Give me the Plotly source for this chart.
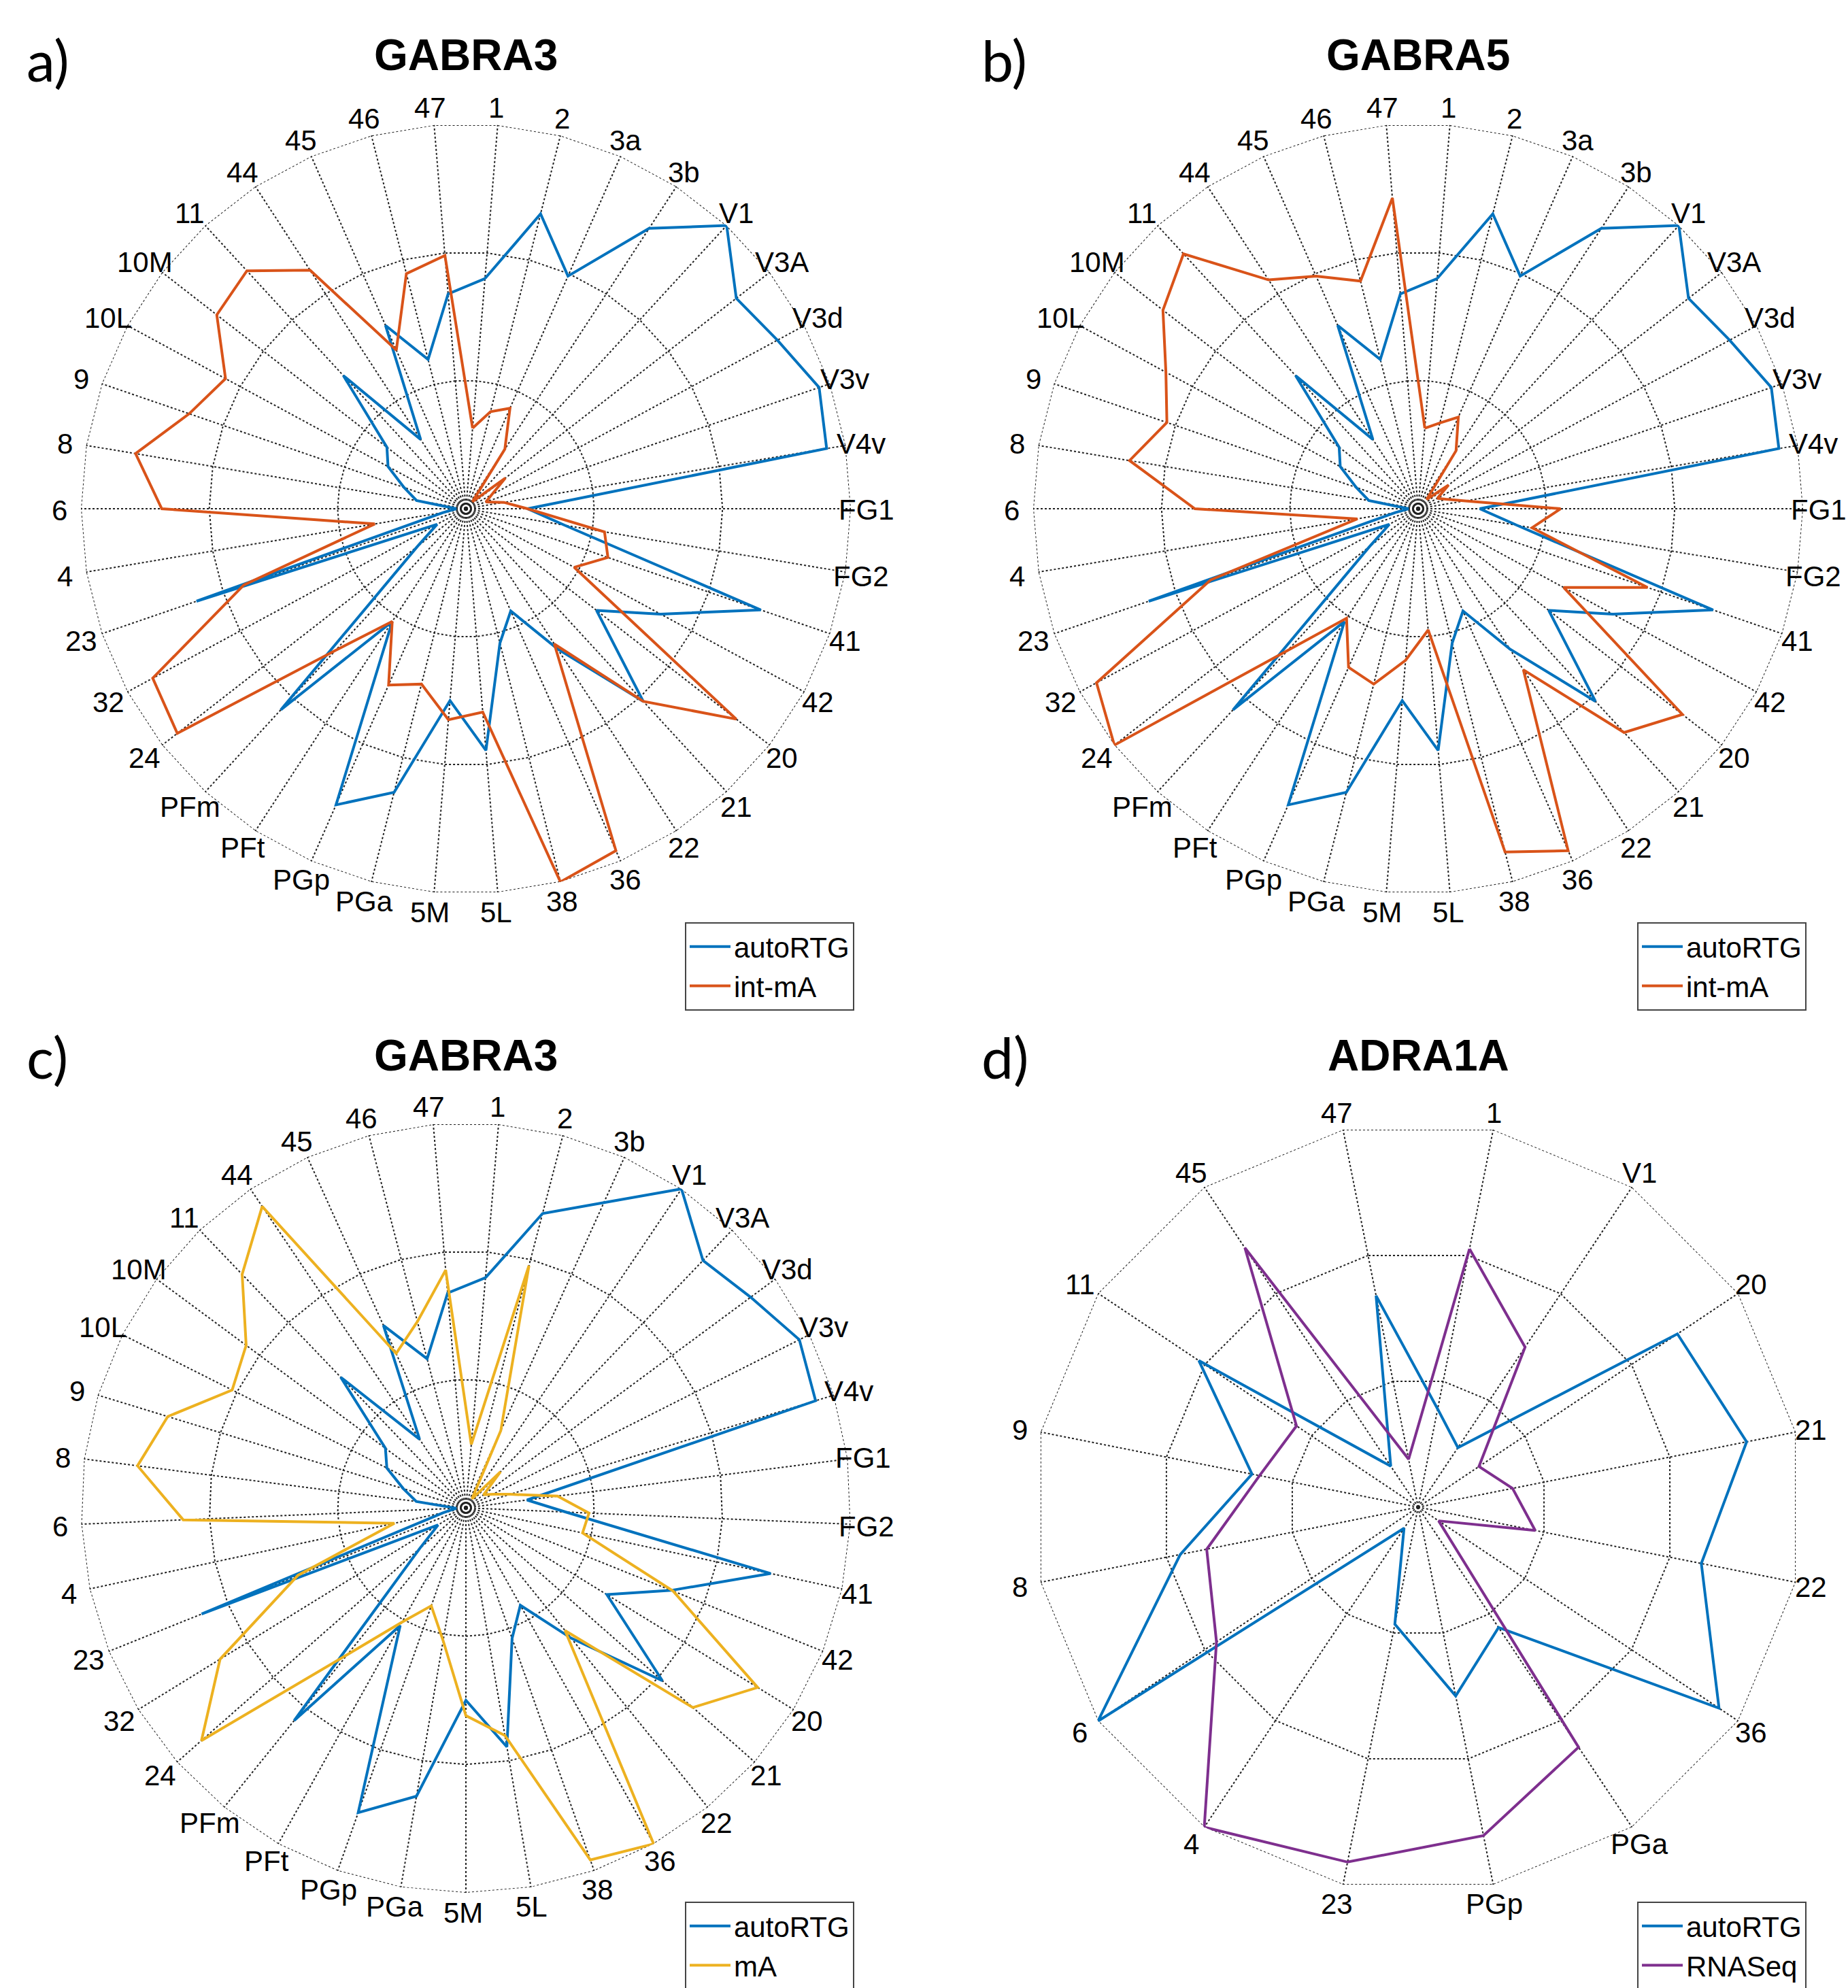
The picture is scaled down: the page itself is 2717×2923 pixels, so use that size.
import math
import plotly.graph_objects as go

W, H = 2717, 2923

# ---------------- categories (tick labels) ----------------
areas_38 = ["1", "2", "3a", "3b", "V1", "V3A", "V3d", "V3v", "V4v", "FG1", "FG2",
            "41", "42", "20", "21", "22", "36", "38", "5L", "5M", "PGa", "PGp",
            "PFt", "PFm", "24", "32", "23", "4", "6", "8", "9", "10L", "10M",
            "11", "44", "45", "46", "47"]
areas_37 = ["1", "2", "3b", "V1", "V3A", "V3d", "V3v", "V4v", "FG1", "FG2",
            "41", "42", "20", "21", "22", "36", "38", "5L", "5M", "PGa", "PGp",
            "PFt", "PFm", "24", "32", "23", "4", "6", "8", "9", "10L", "10M",
            "11", "44", "45", "46", "47"]
areas_16 = ["1", "V1", "20", "21", "22", "36", "PGa", "PGp", "23", "4", "6",
            "8", "9", "11", "45", "47"]

# ---------------- series values (normalised) ----------------
gabra3_autoRTG = [0.60, 0.79, 0.66, 0.87, 1.00, 0.89, 0.92, 0.97, 0.95, 0.16, 0.26,
                  0.81, 0.575, 0.43, 0.68, 0.435, 0.29, 0.36, 0.63, 0.50, 0.76, 0.84,
                  0.35, 0.71, 0.16, 0.085, 0.74, 0.06, 0.025, 0.13, 0.17, 0.23, 0.26,
                  0.47, 0.215, 0.52, 0.40, 0.56]
gabra3_intmA = [0.21, 0.26, 0.285, 0.185, 0.025, 0.13, 0.076, 0.055, 0.10, 0.16, 0.365,
                0.39, 0.32, 0.89, 0.68, 0.42, 0.97, 1.00, 0.53, 0.55, 0.47, 0.50,
                0.35, 0.50, 0.95, 0.925, 0.61, 0.24, 0.79, 0.87, 0.76, 0.71, 0.82,
                0.84, 0.74, 0.45, 0.63, 0.66]
gabra5_autoRTG = [0.60, 0.79, 0.66, 0.87, 1.00, 0.89, 0.92, 0.97, 0.95, 0.16, 0.26,
                  0.81, 0.575, 0.43, 0.68, 0.435, 0.29, 0.36, 0.63, 0.50, 0.76, 0.84,
                  0.35, 0.71, 0.16, 0.085, 0.74, 0.06, 0.025, 0.13, 0.17, 0.23, 0.26,
                  0.47, 0.215, 0.52, 0.40, 0.56]
gabra5_intmA = [0.21, 0.23, 0.26, 0.18, 0.033, 0.10, 0.057, 0.076, 0.124, 0.37, 0.30,
                0.63, 0.43, 0.87, 0.79, 0.50, 0.97, 0.92, 0.316, 0.395, 0.47, 0.45,
                0.34, 0.50, 1.00, 0.95, 0.57, 0.16, 0.58, 0.76, 0.69, 0.745, 0.84,
                0.90, 0.71, 0.66, 0.61, 0.81]
gabra3c_autoRTG = [0.60, 0.79, 0.87, 1.00, 0.89, 0.92, 0.97, 0.95, 0.16, 0.26,
                   0.81, 0.575, 0.43, 0.68, 0.435, 0.29, 0.36, 0.63, 0.50, 0.76, 0.84,
                   0.35, 0.71, 0.16, 0.085, 0.74, 0.06, 0.025, 0.13, 0.17, 0.23, 0.26,
                   0.47, 0.215, 0.52, 0.40, 0.56]
gabra3c_mA = [0.165, 0.65, 0.22, 0.028, 0.13, 0.057, 0.078, 0.12, 0.24, 0.32,
              0.31, 0.58, 0.89, 0.785, 0.41, 1.00, 0.97, 0.60, 0.54, 0.35, 0.27,
              0.34, 0.49, 0.915, 0.75, 0.47, 0.19, 0.735, 0.86, 0.81, 0.68, 0.71,
              0.84, 0.945, 0.44, 0.50, 0.62]
adra1a_autoRTG = [0.26, 0.186, 0.81, 0.87, 0.75, 0.94, 0.376, 0.50, 0.31, 0.066,
                  1.00, 0.63, 0.44, 0.685, 0.128, 0.56]
adra1a_RNASeq = [0.684, 0.50, 0.19, 0.25, 0.31, 0.064, 0.75, 0.87, 0.94, 1.00,
                 0.63, 0.56, 0.42, 0.38, 0.81, 0.127]

titles = ["GABRA3", "GABRA5", "GABRA3", "ADRA1A"]
letters = ["a)", "b)", "c)", "d)"]

BLUE, ORANGE, YELLOW, PURPLE = "#0072BD", "#D95319", "#EDB120", "#7E2F8E"
GRID = "#222222"

panels = [
    dict(sub="polar", leg="legend", cx=685, cy=748, cats=areas_38,
         series=[("autoRTG", gabra3_autoRTG, BLUE), ("int-mA", gabra3_intmA, ORANGE)]),
    dict(sub="polar2", leg="legend2", cx=2085, cy=748, cats=areas_38,
         series=[("autoRTG", gabra5_autoRTG, BLUE), ("int-mA", gabra5_intmA, ORANGE)]),
    dict(sub="polar3", leg="legend3", cx=685, cy=2217, cats=areas_37,
         series=[("autoRTG", gabra3c_autoRTG, BLUE), ("mA", gabra3c_mA, YELLOW)]),
    dict(sub="polar4", leg="legend4", cx=2085, cy=2216, cats=areas_16,
         series=[("autoRTG", adra1a_autoRTG, BLUE), ("RNASeq", adra1a_RNASeq, PURPLE)]),
]
R = 566            # pixel radius of the web
LABEL_R = 1.048    # label centres, as a fraction of the web radius
FONT = "Arial, Liberation Sans, sans-serif"

fig = go.Figure()
layout = dict(width=W, height=H, autosize=False, paper_bgcolor="white",
              margin=dict(l=0, r=0, t=0, b=0, pad=0, autoexpand=False),
              font=dict(family=FONT, size=42, color="black"), annotations=[])

legend_pos = [(1007, 1356), (2407, 1356), (1007, 2796), (2407, 2796)]

for k, p in enumerate(panels):
    cats = p["cats"]
    n = len(cats)
    rot = 90 - 180 / n
    # outer dotted ring of the web
    fig.add_trace(go.Scatterpolar(
        r=[1] * (n + 1), theta=cats + [cats[0]], mode="lines", subplot=p["sub"],
        line=dict(color=GRID, width=2, dash="dot"), showlegend=False, hoverinfo="skip"))
    for name, vals, col in p["series"]:
        fig.add_trace(go.Scatterpolar(
            r=vals + [vals[0]], theta=cats + [cats[0]], mode="lines",
            line=dict(color=col, width=4), name=name, subplot=p["sub"],
            legend=p["leg"]))
    fig.add_trace(go.Scatterpolar(
        r=[0], theta=[cats[0]], mode="markers", subplot=p["sub"], showlegend=False,
        hoverinfo="skip",
        marker=dict(symbol="square-open-dot", size=16, color="black",
                    line=dict(width=2, color="black"))))
    cx, cy = p["cx"], p["cy"]
    layout[p["sub"]] = dict(
        domain=dict(x=[(cx - R) / W, (cx + R) / W], y=[1 - (cy + R) / H, 1 - (cy - R) / H]),
        bgcolor="white", gridshape="linear",
        radialaxis=dict(range=[0, 1], tickvals=[1 / 3, 2 / 3], showticklabels=False,
                        ticks="", showline=False, showgrid=True, gridcolor=GRID,
                        gridwidth=2, griddash="dot"),
        angularaxis=dict(type="category", categoryarray=cats, direction="clockwise",
                         rotation=rot, showline=False, ticks="", showticklabels=False,
                         showgrid=True, gridcolor=GRID, gridwidth=2, griddash="dot"))
    # category labels centred just outside each spoke end (MATLAB-style)
    for i, c in enumerate(cats):
        th = math.radians(rot - i * 360 / n)
        px = cx + LABEL_R * R * math.cos(th) - 4
        py = cy - LABEL_R * R * math.sin(th) + 2
        layout["annotations"].append(dict(
            text=c, x=px / W, y=1 - py / H, xref="paper", yref="paper",
            xanchor="center", yanchor="middle", showarrow=False,
            font=dict(size=42, family=FONT, color="black")))
    lx, ly = legend_pos[k]
    layout[p["leg"]] = dict(x=lx / W, y=1 - ly / H, xanchor="left", yanchor="top",
                            bgcolor="white", bordercolor="#444444", borderwidth=2,
                            font=dict(size=42, family=FONT, color="black"),
                            itemwidth=60, tracegroupgap=0)
    layout["annotations"].append(dict(
        text="<b>" + titles[k] + "</b>", x=cx / W, y=1 - (81 if k < 2 else 1552) / H,
        xref="paper", yref="paper", xanchor="center", yanchor="middle", showarrow=False,
        font=dict(size=64, family=FONT, color="black")))
    layout["annotations"].append(dict(
        text=letters[k], x=(37 if k % 2 == 0 else 1441) / W,
        y=1 - (88 if k < 2 else 1553) / H, xref="paper", yref="paper",
        xanchor="left", yanchor="middle", showarrow=False,
        font=dict(size=84, family="Lato, Carlito, sans-serif", color="black")))

fig.update_layout(**layout)
fig.write_html("out.html", config={"displayModeBar": False},
               post_script="document.body.style.margin='0px';")
